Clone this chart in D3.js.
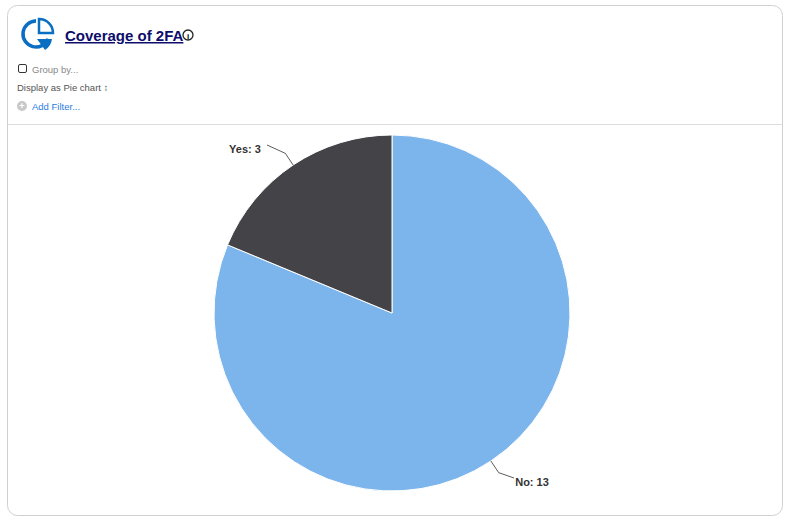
<!DOCTYPE html><html><head><meta charset="utf-8"><script src="https://cdn.jsdelivr.net/npm/d3@7"></script>
<style>body{margin:0;background:#fff;font-family:Arial,"Liberation Sans",sans-serif}</style></head><body>
<svg id="c" width="790" height="521"></svg>
<script>
const categories=["No","Yes"];
const values=[13,3];
const colors=["#7cb4ec","#434348"];
const svg=d3.select("#c");
svg.append("rect").attr("x",7.5).attr("y",5.5).attr("width",775).attr("height",510).attr("rx",10).attr("fill","#fff").attr("stroke","#d0d0d0");
svg.append("line").attr("x1",8).attr("x2",782).attr("y1",124.5).attr("y2",124.5).attr("stroke","#ddd");
// icon
const ic=svg.append("g").attr("transform","translate(36,34)").attr("fill","none").attr("stroke","#0a6fc2").attr("stroke-width",3.5);
ic.append("path").attr("d",d3.arc().innerRadius(13).outerRadius(13).startAngle(Math.PI*0.62).endAngle(Math.PI*2)());
ic.append("path").attr("d","M-3,-3 L-3,-17 A14,14 0 0 1 11,-3 Z").attr("transform","translate(6,2)").attr("stroke-width",2.5);
ic.append("path").attr("d","M1,5 L16,5 A15,15 0 0 1 9,16 Z").attr("fill","#0a6fc2").attr("stroke","none");
svg.append("text").attr("x",65).attr("y",41).text("Coverage of 2FA").attr("font-size",15).attr("font-weight","bold").attr("fill","#0d0d6b").attr("text-decoration","underline");
svg.append("circle").attr("cx",188).attr("cy",35).attr("r",5).attr("fill","none").attr("stroke","#222").attr("stroke-width",1.3);
svg.append("text").attr("x",188).attr("y",38.5).text("i").attr("font-size",8).attr("font-weight","bold").attr("text-anchor","middle");
svg.append("rect").attr("x",18.5).attr("y",64.5).attr("width",8).attr("height",8).attr("rx",1.5).attr("fill","none").attr("stroke","#333");
svg.append("text").attr("x",32).attr("y",73).text("Group by...").attr("font-size",9.5).attr("fill","#888");
svg.append("text").attr("x",17).attr("y",91).text("Display as Pie chart \u2195").attr("font-size",9.5).attr("fill","#555");
svg.append("circle").attr("cx",22).attr("cy",106).attr("r",5).attr("fill","#c8c8c8");
svg.append("text").attr("x",22).attr("y",109).text("+").attr("font-size",9).attr("fill","#fff").attr("text-anchor","middle").attr("font-weight","bold");
svg.append("text").attr("x",32).attr("y",110).text("Add Filter...").attr("font-size",9.5).attr("fill","#2a7de1");
// pie
const cx=392,cy=313,R=178;
const pie=d3.pie().sort(null)(values);
const arc=d3.arc().innerRadius(0).outerRadius(R);
const g=svg.append("g").attr("transform",`translate(${cx},${cy})`);
g.selectAll("path").data(pie).join("path").attr("d",arc).attr("fill",(d,i)=>colors[i]).attr("stroke","#fff").attr("stroke-width",1);
const lbl=[{x:532,y:482,anchor:"middle"},{x:245,y:149,anchor:"middle"}];
pie.forEach((d,i)=>{
  const a=(d.startAngle+d.endAngle)/2;
  const p0=[Math.sin(a)*R,-Math.cos(a)*R];
  const p1=[Math.sin(a)*(R+14),-Math.cos(a)*(R+14)];
  const lx=lbl[i].x-cx, ly=lbl[i].y-cy-4;
  const ex=i===0?lx-18:lx+22;
  g.append("path").attr("d",`M${p0}L${p1}L${ex},${ly}`).attr("fill","none").attr("stroke","#333").attr("stroke-width",0.8);
  svg.append("text").attr("x",lbl[i].x).attr("y",lbl[i].y+4).attr("text-anchor",lbl[i].anchor).attr("font-size",11).attr("font-weight","bold").attr("fill","#333").text(categories[i]+": "+values[i]);
});
</script></body></html>
